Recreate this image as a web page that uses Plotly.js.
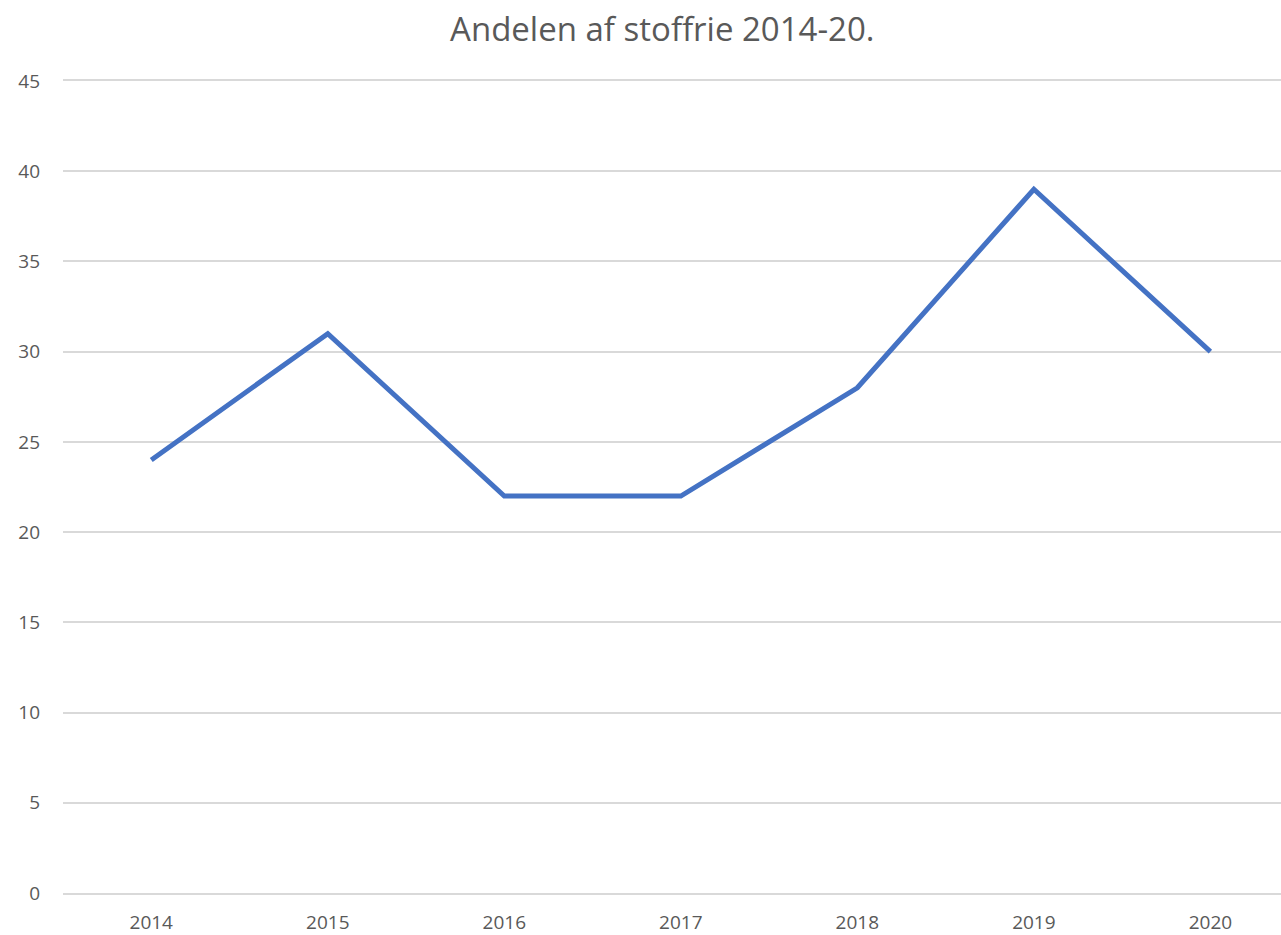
<!DOCTYPE html>
<html>
<head>
<meta charset="utf-8">
<script src="https://cdn.plot.ly/plotly-3.0.1.min.js"></script>
<style>html,body{margin:0;padding:0;background:#fff;}#chart{width:1281px;height:935px;}</style>
</head>
<body>
<div id="chart"></div>
<script>
const years = ["2014", "2015", "2016", "2017", "2018", "2019", "2020"];
const values = [24, 31, 22, 22, 28, 39, 30];
const yTicks = [0, 5, 10, 15, 20, 25, 30, 35, 40, 45];

const trace = {
  x: years,
  y: values,
  type: "scatter",
  mode: "lines",
  line: {color: "#4472C4", width: 5},
  hoverinfo: "x+y"
};

const layout = {
  width: 1281,
  height: 935,
  margin: {l: 63, r: 0, t: 81, b: 42},
  paper_bgcolor: "#ffffff",
  plot_bgcolor: "#ffffff",
  font: {family: "Open Sans, Noto Sans, sans-serif", color: "#595959", size: 18},
  title: {
    text: "Andelen af stoffrie 2014-20.",
    font: {size: 33, color: "#595959", family: "Open Sans, Noto Sans, sans-serif"},
    x: 0.517, xanchor: "center", xref: "container",
    y: 0.968, yanchor: "middle", yref: "container"
  },
  xaxis: {
    type: "category",
    range: [-0.5, 6.4],
    showgrid: false,
    showline: true,
    mirror: true,
    linecolor: "#d9d9d9",
    linewidth: 2,
    zeroline: false,
    ticks: "",
    ticklabelstandoff: 11,
    tickfont: {size: 19, color: "#595959"}
  },
  yaxis: {
    range: [0, 45],
    tickvals: yTicks,
    ticktext: yTicks.map(String),
    showgrid: true,
    gridcolor: "#d9d9d9",
    gridwidth: 2,
    zeroline: false,
    showline: false,
    ticks: "",
    ticklabelstandoff: 22,
    tickfont: {size: 19, color: "#595959"}
  },
  showlegend: false
};

Plotly.newPlot("chart", [trace], layout, {displayModeBar: false, staticPlot: true});
</script>
</body>
</html>
